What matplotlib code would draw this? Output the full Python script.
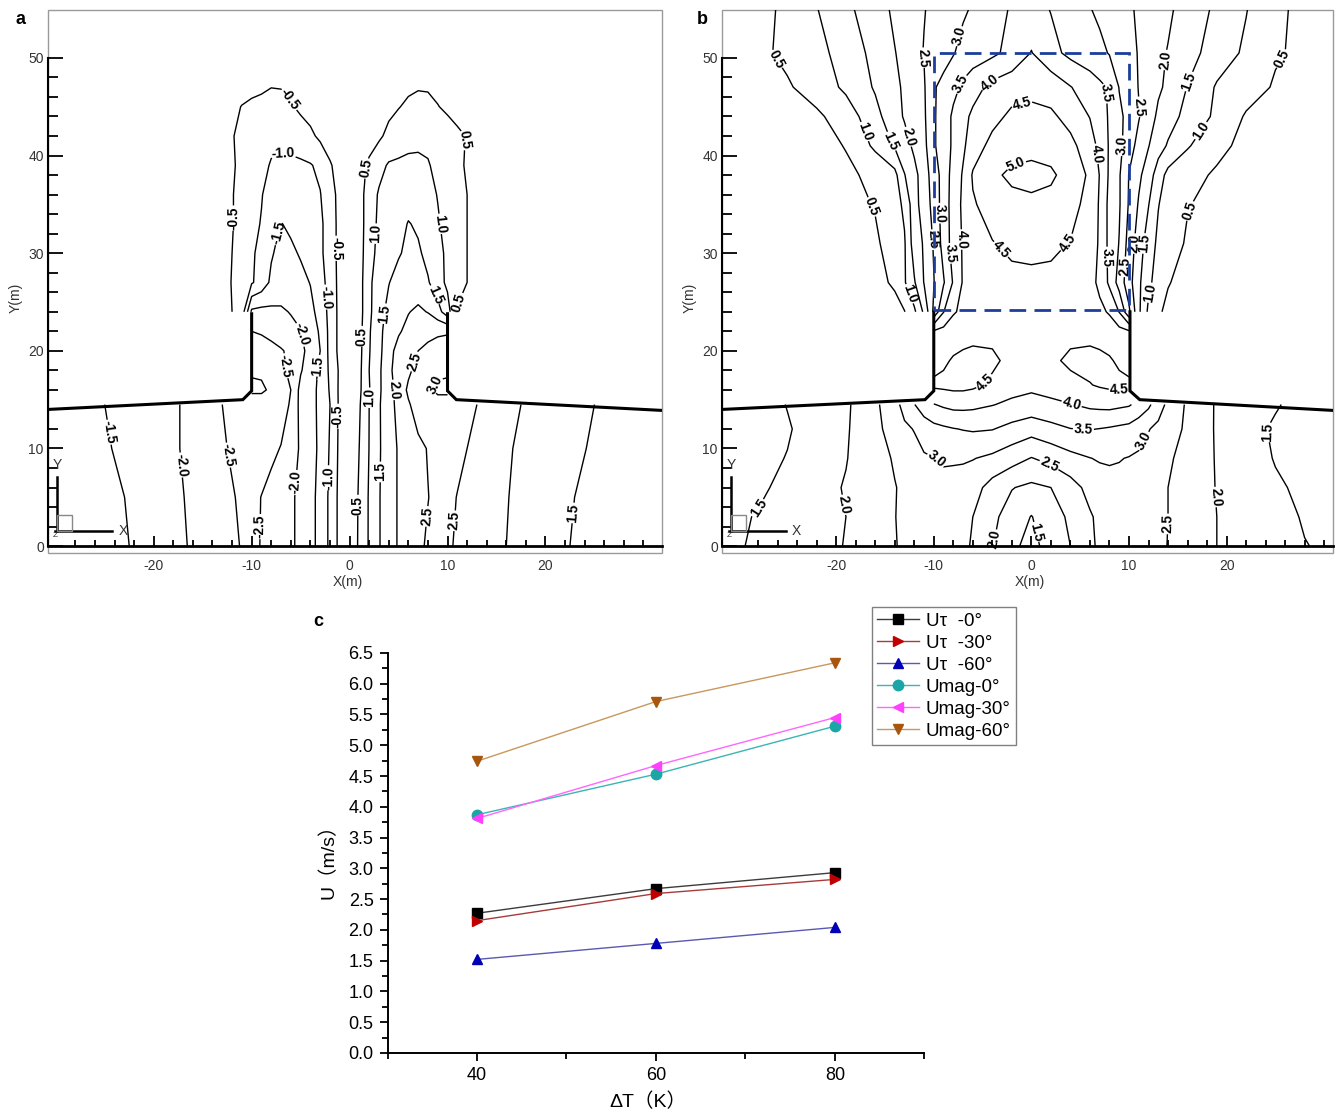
import matplotlib
matplotlib.use('Agg')
import matplotlib.pyplot as plt
import numpy as np
from matplotlib.patches import Rectangle
from matplotlib.ticker import FixedLocator, MultipleLocator, FormatStrFormatter

plt.rcParams['font.family'] = ['Liberation Sans', 'Noto Sans CJK SC']
plt.rcParams['axes.unicode_minus'] = False

N = np.nan

# panel a: field on a coarse grid (rows follow ya, columns xa)
xa = [-31, -25, -20, -16, -13, -11, -10, -9, -8, -7, -6, -5, -4, -3, -2, -1, 0,
      1, 2, 3, 4, 5, 6, 7, 8, 9, 10, 11, 13, 16, 20, 25, 32]
ya = [0, 5, 10, 14.5, 16, 18, 20, 22, 24, 27, 30, 33, 36, 39, 42, 45, 48, 55]
ua = [
    [-1.0, -1.3, -1.7, -2.05, -2.35, -2.52, -2.6, -2.48, -2.35, -2.22, -2.1, -1.85, -1.65, -1.35, -0.9, -0.35, 0.05,
     0.6, 1.05, 1.47, 1.75, 2.05, 2.25, 2.42, 2.55, 2.62, 2.56, 2.45, 2.3, 2.0, 1.7, 1.3, 1.0],
    [-1.05, -1.35, -1.72, -2.08, -2.4, -2.55, -2.62, -2.49, -2.36, -2.22, -2.1, -1.85, -1.65, -1.35, -0.9, -0.35, 0.05,
     0.58, 1.05, 1.47, 1.75, 2.05, 2.25, 2.42, 2.49, 2.6, 2.58, 2.49, 2.35, 2.02, 1.72, 1.35, 1.05],
    [-1.15, -1.45, -1.8, -2.1, -2.45, -2.65, -2.72, -2.7, -2.6, -2.48, -2.3, -1.92, -1.65, -1.42, -0.95, -0.38, 0.02,
     0.51, 1.01, 1.45, 1.75, 2.05, 2.25, 2.4, 2.52, 2.62, 2.65, 2.58, 2.42, 2.05, 1.75, 1.45, 1.1],
    [-1.2, -1.5, -1.8, -2.1, -2.5, -2.75, -2.85, -2.85, -2.8, -2.7, -2.45, -1.85, -1.65, -1.4, -1.0, -0.4, 0.0,
     0.45, 1.0, 1.45, 1.8, 2.15, 2.45, 2.7, 2.85, 2.9, 2.9, 2.85, 2.5, 2.12, 1.8, 1.5, 1.15],
    [N] * 6 + [-3.05, -3.05, -2.95, -2.75, -2.5, -1.85, -1.65, -1.4, -0.95, -0.4, 0.0,
               0.4, 0.97, 1.42, 1.8, 2.2, 2.58, 2.8, 2.95, 3.05, 3.05] + [N] * 6,
    [N] * 6 + [-2.97, -2.95, -2.8, -2.6, -2.4, -2.05, -1.7, -1.42, -0.9, -0.42, 0.0,
               0.38, 1.0, 1.4, 1.9, 2.2, 2.42, 2.65, 2.8, 2.95, 2.97] + [N] * 6,
    [N] * 6 + [-2.75, -2.72, -2.65, -2.55, -2.38, -2.15, -1.8, -1.5, -0.85, -0.35, 0.0,
               0.35, 0.97, 1.35, 1.85, 2.15, 2.35, 2.5, 2.62, 2.7, 2.72] + [N] * 6,
    [N] * 6 + [-2.5, -2.45, -2.35, -2.2, -2.1, -2.02, -1.7, -1.45, -0.85, -0.35, 0.0,
               0.33, 0.95, 1.35, 1.75, 1.95, 2.12, 2.25, 2.35, 2.42, 2.45] + [N] * 6,
    [0, 0, 0, -0.05, -0.3, -0.7, -2.1, -2.15, -2.1, -2.05, -1.98, -1.85, -1.65, -1.3, -0.85, -0.35, 0.0,
     0.3, 0.9, 1.3, 1.65, 1.85, 1.98, 2.08, 1.98, 1.7, 1.2, 0.45, 0.25, 0.05, 0, 0, 0],
    [0, 0, 0, -0.05, -0.3, -0.75, -0.95, -1.2, -1.6, -1.8, -1.75, -1.65, -1.48, -1.2, -0.8, -0.35, 0.0,
     0.3, 0.9, 1.25, 1.48, 1.7, 1.8, 1.75, 1.55, 1.2, 0.9, 0.7, 0.3, 0.05, 0, 0, 0],
    [0, 0, 0, -0.05, -0.3, -0.7, -0.95, -1.1, -1.45, -1.65, -1.6, -1.45, -1.3, -1.1, -0.75, -0.35, 0.0,
     0.3, 0.8, 1.15, 1.3, 1.45, 1.62, 1.58, 1.35, 1.15, 0.9, 0.7, 0.3, 0.05, 0, 0, 0],
    [0, 0, 0, -0.05, -0.3, -0.65, -0.9, -1.02, -1.3, -1.52, -1.4, -1.3, -1.2, -1.1, -0.75, -0.35, 0.0,
     0.3, 0.75, 1.1, 1.2, 1.3, 1.53, 1.42, 1.3, 1.05, 0.85, 0.7, 0.3, 0.05, 0, 0, 0],
    [0, 0, 0, -0.05, -0.3, -0.65, -0.85, -0.98, -1.15, -1.2, -1.2, -1.2, -1.15, -1.02, -0.7, -0.35, 0.0,
     0.3, 0.75, 1.05, 1.15, 1.2, 1.25, 1.2, 1.15, 0.98, 0.85, 0.7, 0.3, 0.05, 0, 0, 0],
    [0, 0, 0, -0.05, -0.3, -0.6, -0.75, -0.9, -1.03, -1.07, -1.08, -1.07, -1.03, -0.9, -0.55, -0.3, 0.0,
     0.3, 0.6, 0.85, 1.05, 1.08, 1.1, 1.08, 1.03, 0.9, 0.75, 0.6, 0.3, 0.05, 0, 0, 0],
    [0, 0, 0, -0.05, -0.35, -0.6, -0.75, -0.85, -0.9, -0.9, -0.85, -0.75, -0.6, -0.4, -0.25, -0.1, 0.0,
     0.1, 0.25, 0.42, 0.62, 0.75, 0.85, 0.9, 0.9, 0.85, 0.75, 0.6, 0.35, 0.05, 0, 0, 0],
    [0, 0, 0, -0.05, -0.2, -0.52, -0.6, -0.65, -0.68, -0.65, -0.55, -0.4, -0.3, -0.2, -0.1, -0.05, 0.0,
     0.05, 0.15, 0.25, 0.38, 0.48, 0.58, 0.62, 0.6, 0.52, 0.4, 0.3, 0.15, 0.05, 0, 0, 0],
    [0, 0, 0, 0, -0.05, -0.15, -0.25, -0.3, -0.4, -0.4, -0.3, -0.2, -0.15, -0.1, -0.05, 0, 0,
     0, 0.05, 0.1, 0.15, 0.25, 0.35, 0.4, 0.4, 0.3, 0.25, 0.15, 0.05, 0, 0, 0, 0],
    [0] * 33,
]
levels_a = [-3.0, -2.5, -2.0, -1.5, -1.0, -0.5, 0.5, 1.0, 1.5, 2.0, 2.5, 3.0]

# panel b: speed field on a coarse grid (rows follow yb, columns xb)
xb = [-32, -28, -25, -22, -19, -16, -14, -13, -12, -11, -10, -9, -8, -7, -6, -4, -2, 0,
      2, 4, 6, 7, 8, 9, 10, 11, 12, 13, 14, 16, 19, 22, 25, 28, 31]
yb = [0, 3, 6, 9, 12, 14.5, 16.5, 19, 22, 24, 27, 31, 35, 38, 41, 44, 47, 50.5, 55]
ub = [
    [1.4, 1.55, 1.7, 1.85, 2.02, 2.3, 2.48, 2.56, 2.65, 2.72, 2.75, 2.75, 2.7, 2.6, 2.45, 2.02, 1.6, 1.35,
     1.7, 2.0, 2.42, 2.57, 2.68, 2.74, 2.75, 2.72, 2.66, 2.58, 2.49, 2.3, 2.0, 1.85, 1.7, 1.52, 1.4],
    [1.35, 1.53, 1.7, 1.85, 2.0, 2.3, 2.49, 2.58, 2.68, 2.75, 2.8, 2.8, 2.75, 2.65, 2.5, 2.1, 1.8, 1.48,
     1.8, 2.08, 2.45, 2.6, 2.72, 2.78, 2.8, 2.75, 2.68, 2.58, 2.5, 2.3, 2.0, 1.85, 1.7, 1.45, 1.35],
    [1.3, 1.42, 1.62, 1.85, 2.03, 2.3, 2.48, 2.58, 2.68, 2.78, 2.85, 2.88, 2.85, 2.8, 2.7, 2.3, 2.02, 1.9,
     2.0, 2.3, 2.65, 2.78, 2.85, 2.88, 2.85, 2.8, 2.72, 2.6, 2.5, 2.3, 1.98, 1.78, 1.57, 1.4, 1.3],
    [1.2, 1.35, 1.52, 1.8, 1.98, 2.3, 2.55, 2.7, 2.85, 2.95, 2.99, 3.05, 3.05, 3.05, 3.02, 2.9, 2.7, 2.48,
     2.65, 2.85, 2.99, 3.04, 3.05, 3.02, 2.98, 2.93, 2.85, 2.72, 2.58, 2.3, 1.97, 1.75, 1.47, 1.33, 1.2],
    [1.15, 1.3, 1.45, 1.75, 1.95, 2.35, 2.75, 2.92, 3.02, 3.2, 3.35, 3.42, 3.48, 3.52, 3.55, 3.52, 3.35, 3.2,
     3.35, 3.49, 3.52, 3.49, 3.45, 3.4, 3.35, 3.2, 3.02, 2.9, 2.75, 2.4, 1.95, 1.7, 1.42, 1.3, 1.15],
    [1.1, 1.25, 1.52, 1.72, 1.92, 2.4, 2.85, 3.15, 3.48, 3.8, 3.98, 4.08, 4.15, 4.15, 4.12, 4.02, 3.9, 3.82,
     3.9, 3.98, 4.1, 4.13, 4.15, 4.1, 4.05, 3.85, 3.6, 3.2, 2.9, 2.42, 1.95, 1.75, 1.55, 1.3, 1.1],
    [N] * 10 + [4.6, 4.62, 4.65, 4.65, 4.6, 4.4, 4.2, 4.12, 4.2, 4.35, 4.48, 4.55, 4.6, 4.62, 4.6] + [N] * 10,
    [N] * 10 + [4.3, 4.42, 4.55, 4.62, 4.65, 4.6, 4.35, 4.25, 4.4, 4.6, 4.65, 4.62, 4.55, 4.42, 4.3] + [N] * 10,
    [N] * 10 + [4.05, 4.15, 4.25, 4.3, 4.35, 4.35, 4.3, 4.28, 4.3, 4.35, 4.35, 4.3, 4.25, 4.15, 4.05] + [N] * 10,
    [0.1, 0.12, 0.15, 0.18, 0.22, 0.28, 0.38, 0.48, 0.9, 1.6, 2.6, 3.48, 3.95, 4.1, 4.2, 4.3, 4.32, 4.33,
     4.32, 4.3, 4.2, 4.1, 3.95, 3.48, 2.6, 1.6, 0.9, 0.55, 0.42, 0.3, 0.22, 0.18, 0.15, 0.12, 0.1],
    [0.1, 0.15, 0.2, 0.25, 0.3, 0.4, 0.55, 0.95, 1.45, 2.02, 2.48, 2.95, 3.55, 4.05, 4.15, 4.3, 4.38, 4.4,
     4.38, 4.3, 4.15, 3.9, 3.4, 2.8, 2.2, 1.6, 1.1, 0.8, 0.52, 0.38, 0.3, 0.25, 0.2, 0.15, 0.1],
    [0.1, 0.15, 0.2, 0.25, 0.3, 0.45, 0.65, 0.95, 1.75, 2.05, 2.55, 3.2, 3.7, 4.05, 4.2, 4.48, 4.6, 4.62,
     4.6, 4.48, 4.2, 3.95, 3.35, 2.98, 2.3, 1.75, 1.25, 0.9, 0.7, 0.45, 0.3, 0.25, 0.2, 0.15, 0.1],
    [0.1, 0.15, 0.22, 0.3, 0.38, 0.52, 0.8, 1.1, 1.8, 2.25, 2.65, 3.25, 3.7, 4.1, 4.45, 4.7, 4.85, 4.9,
     4.85, 4.7, 4.3, 3.95, 3.35, 3.05, 2.45, 1.95, 1.52, 1.02, 0.8, 0.52, 0.38, 0.3, 0.22, 0.15, 0.1],
    [0.1, 0.15, 0.22, 0.3, 0.42, 0.6, 0.85, 1.48, 1.85, 2.25, 2.75, 3.2, 3.7, 4.05, 4.55, 4.9, 5.1, 5.15,
     5.08, 4.8, 4.42, 3.98, 3.42, 3.05, 2.48, 2.1, 1.75, 1.25, 0.85, 0.62, 0.45, 0.32, 0.22, 0.15, 0.1],
    [0.12, 0.18, 0.25, 0.35, 0.52, 1.1, 1.55, 1.8, 2.1, 2.35, 2.95, 3.2, 3.6, 3.92, 4.25, 4.65, 4.8, 4.85,
     4.8, 4.62, 4.25, 3.85, 3.45, 3.15, 2.7, 2.35, 2.02, 1.7, 1.45, 1.05, 0.6, 0.4, 0.28, 0.18, 0.12],
    [0.15, 0.22, 0.32, 0.42, 0.72, 1.35, 1.8, 2.05, 2.25, 2.42, 2.95, 3.2, 3.6, 3.85, 4.1, 4.35, 4.6, 4.65,
     4.58, 4.35, 3.98, 3.7, 3.45, 3.1, 2.85, 2.53, 2.25, 1.9, 1.7, 1.35, 0.9, 0.45, 0.33, 0.22, 0.15],
    [0.2, 0.35, 0.45, 0.7, 1.1, 1.55, 1.85, 2.1, 2.3, 2.45, 2.95, 3.15, 3.35, 3.6, 3.8, 4.15, 4.3, 4.35,
     4.3, 4.02, 3.75, 3.6, 3.45, 2.98, 2.75, 2.48, 2.3, 2.08, 1.9, 1.48, 0.95, 0.72, 0.45, 0.32, 0.2],
    [0.3, 0.4, 0.6, 0.85, 1.2, 1.65, 1.98, 2.15, 2.35, 2.52, 2.65, 2.8, 2.97, 3.15, 3.25, 3.4, 3.65, 4.02,
     3.65, 3.38, 3.22, 3.12, 2.97, 2.82, 2.6, 2.48, 2.32, 2.12, 1.97, 1.7, 1.25, 0.92, 0.55, 0.4, 0.3],
    [0.2, 0.35, 0.6, 0.98, 1.4, 1.75, 2.1, 2.2, 2.35, 2.48, 2.6, 2.7, 2.82, 2.93, 3.05, 3.3, 3.55, 3.7,
     3.48, 3.25, 3.02, 2.9, 2.78, 2.68, 2.55, 2.45, 2.35, 2.22, 2.1, 1.75, 1.42, 1.02, 0.62, 0.35, 0.2],
]
levels_b = [0.5, 1.0, 1.5, 2.0, 2.5, 3.0, 3.5, 4.0, 4.5, 5.0]

# ground line and chimney walls
wall_a = [([-30.8, -10.9, -10.0, -10.0], [14.0, 15.0, 15.9, 23.8]),
          ([10.0, 10.0, 10.9, 31.9], [23.8, 15.9, 15.0, 13.9])]
wall_b = [([-31.7, -10.9, -10.0, -10.0], [14.0, 15.0, 15.9, 24.0]),
          ([10.1, 10.1, 11.1, 30.9], [24.0, 15.9, 15.0, 13.9])]
box_b = (-10.0, 24.2, 20.0, 26.3)   # dashed region: x0, y0, width, height

# panel c
delta_t = [40, 60, 80]
u_tau_0 = [2.27, 2.67, 2.93]
u_tau_30 = [2.15, 2.59, 2.82]
u_tau_60 = [1.52, 1.78, 2.04]
u_mag_0 = [3.87, 4.53, 5.31]
u_mag_30 = [3.81, 4.67, 5.45]
u_mag_60 = [4.74, 5.71, 6.34]

# where the contour labels sit, per level
spots_a = {
    -2.5: [(-6.2, 18.5), (-8.9, 2.0), (-11.9, 9.4)],
    -2.0: [(-5.4, 21.6), (-5.3, 6.5), (-17.3, 8.3)],
    -1.5: [(-6.9, 32.0), (-3.2, 18.3), (-23.7, 11.8)],
    -1.0: [(-6.8, 40.0), (-2.55, 25.5), (-2.2, 7.0)],
    -0.5: [(-5.8, 46.0), (-11.8, 33.6), (-1.5, 30.5), (-1.3, 13.3)],
    0.5: [(1.55, 38.7), (1.3, 21.5), (1.0, 4.2), (11.6, 41.6), (11.5, 24.8)],
    1.0: [(2.7, 32.0), (9.2, 33.0), (2.0, 15.2)],
    1.5: [(3.6, 23.8), (8.2, 25.5), (3.1, 7.6), (22.8, 3.4)],
    2.0: [(4.5, 16.0)],
    2.5: [(6.0, 19.1), (8.4, 3.0), (10.7, 2.6)],
    3.0: [(8.6, 16.6)],
}
spots_b = {
    0.5: [(-25.9, 50.0), (-16.2, 34.8), (25.5, 50.0), (16.0, 34.4)],
    1.0: [(-17.5, 42.3), (17.3, 42.6), (-12.6, 25.8), (12.4, 25.9)],
    1.5: [(-14.5, 41.4), (16.1, 47.6), (11.5, 31.0), (-27.8, 3.8), (24.3, 11.7), (0.7, 1.5)],
    2.0: [(-12.7, 41.9), (13.6, 49.8), (10.3, 31.0), (-18.8, 4.3), (18.4, 5.0), (-3.9, 0.7)],
    2.5: [(-11.2, 50.0), (-9.9, 31.4), (11.3, 45.0), (9.6, 28.6), (13.3, 2.3), (1.9, 8.5)],
    3.0: [(-7.3, 52.2), (-9.3, 34.1), (9.3, 41.0), (-9.4, 9.2), (10.7, 11.2)],
    3.5: [(-7.4, 47.4), (-8.1, 30.0), (7.9, 46.4), (7.6, 29.6), (5.3, 11.6)],
    4.0: [(-4.0, 47.1), (-7.2, 31.4), (6.9, 40.2), (4.0, 14.2)],
    4.5: [(-1.0, 45.4), (-4.0, 29.6), (3.8, 31.0), (-4.4, 16.5), (9.0, 15.3)],
    5.0: [(-1.8, 39.9)],
}

GREY = '#333333'


def field_panel(ax, x, y, z, levels, spots, walls, xlim, xlabel_x):
    field = np.ma.masked_invalid(np.array(z, dtype=float))
    # one contour set per level, so each label lands on its own level
    for lev in levels:
        cs = ax.contour(x, y, field, levels=[lev], colors='k', linewidths=1.0,
                        linestyles='solid', negative_linestyles='solid', corner_mask=False)
        if lev in spots and len(cs.allsegs[0]):
            for t in ax.clabel(cs, manual=spots[lev], fmt='%.1f', fontsize=9.8, inline_spacing=1):
                t.set_fontweight('bold')
    for wx, wy in walls:
        ax.plot(wx, wy, color='k', lw=2.2, solid_joinstyle='miter', zorder=4)

    ax.set_xlim(*xlim)
    ax.set_ylim(-0.7, 54.9)
    ax.spines['top'].set_visible(False)
    ax.spines['right'].set_visible(False)
    ax.spines['bottom'].set_position(('data', 0))
    ax.spines['bottom'].set_linewidth(2.0)
    ax.spines['left'].set_bounds(0, 50)
    ax.spines['left'].set_linewidth(1.5)
    ax.add_patch(Rectangle((0, 0), 1, 1, transform=ax.transAxes, fill=False,
                           ec='#9a9a9a', lw=1.0, clip_on=False, zorder=0))
    ax.xaxis.set_major_locator(FixedLocator([-20, -10, 0, 10, 20]))
    ax.xaxis.set_minor_locator(FixedLocator(np.arange(-28, 31, 2)))
    ax.yaxis.set_major_locator(FixedLocator([0, 10, 20, 30, 40, 50]))
    ax.yaxis.set_minor_locator(FixedLocator(np.arange(2, 50, 2)))
    ax.tick_params(axis='x', which='major', direction='in', length=7, width=1.3, pad=9,
                   labelsize=10, labelcolor=GREY)
    ax.tick_params(axis='x', which='minor', direction='in', length=4.5, width=1.3)
    ax.tick_params(axis='y', which='major', direction='in', length=11, width=1.3, pad=3,
                   labelsize=10, labelcolor=GREY)
    ax.tick_params(axis='y', which='minor', direction='in', length=7, width=1.3)
    ax.set_xlabel('X(m)', fontsize=10, color=GREY)
    ax.set_ylabel('Y(m)', fontsize=10, color=GREY)
    ax.xaxis.set_label_coords(xlabel_x, -0.04)
    ax.yaxis.set_label_coords(-0.041, 0.47)

    # small axis triad in the lower left corner
    kw = dict(transform=ax.transAxes, clip_on=False, zorder=5)
    ax.plot([0.014, 0.014], [0.04, 0.14], color='k', lw=1.8, **kw)
    ax.plot([0.012, 0.104], [0.04, 0.04], color='k', lw=1.8, **kw)
    ax.add_patch(Rectangle((0.014, 0.04), 0.026, 0.03, fill=False, ec='#888888', lw=1.0, **kw))
    ax.text(0.122, 0.04, 'X', fontsize=10, color=GREY, ha='center', va='center', **kw)
    ax.text(0.016, 0.162, 'Y', fontsize=10, color=GREY, ha='center', va='center', **kw)
    ax.text(0.012, 0.032, 'Z', fontsize=6, color=GREY, ha='center', va='center', **kw)


fig = plt.figure(figsize=(13.39, 11.14), dpi=100)
ax_a = fig.add_axes([0.0358, 0.5036, 0.4586, 0.4874])
ax_b = fig.add_axes([0.5392, 0.5036, 0.4563, 0.4874])
ax_c = fig.add_axes([0.2894, 0.0548, 0.4010, 0.3591])

field_panel(ax_a, xa, ya, ua, levels_a, spots_a, wall_a, (-30.8, 31.9), 0.489)
field_panel(ax_b, xb, yb, ub, levels_b, spots_b, wall_b, (-31.7, 30.9), 0.504)
ax_b.add_patch(Rectangle(box_b[:2], box_b[2], box_b[3], fill=False, ec='#1c3d9c', lw=2.0,
                         ls=(0, (6, 3)), zorder=6))

# panel c
series = [
    (u_tau_0, 'Uτ  -0°', '#3c3c3c', 'k', 's'),
    (u_tau_30, 'Uτ  -30°', '#a83a3a', '#c00000', '>'),
    (u_tau_60, 'Uτ  -60°', '#5a5ab0', '#0000b4', '^'),
    (u_mag_0, 'Umag-0°', '#3cb4b4', '#1aa6a6', 'o'),
    (u_mag_30, 'Umag-30°', '#ff66ff', '#ff40ff', '<'),
    (u_mag_60, 'Umag-60°', '#c8975e', '#a8560e', 'v'),
]
for vals, name, lc, mc, mk in series:
    ax_c.plot(delta_t, vals, color=lc, lw=1.0, marker=mk, ms=7.5, mfc=mc, mec=mc, label=name)

ax_c.set_xlim(30, 90)
ax_c.set_ylim(0, 6.5)
ax_c.spines['top'].set_visible(False)
ax_c.spines['right'].set_visible(False)
ax_c.spines['left'].set_linewidth(1.4)
ax_c.spines['bottom'].set_linewidth(1.4)
ax_c.xaxis.set_major_locator(FixedLocator([40, 60, 80]))
ax_c.xaxis.set_minor_locator(FixedLocator([30, 50, 70, 90]))
ax_c.yaxis.set_major_locator(MultipleLocator(0.5))
ax_c.yaxis.set_minor_locator(MultipleLocator(0.25))
ax_c.yaxis.set_major_formatter(FormatStrFormatter('%.1f'))
ax_c.tick_params(which='major', direction='out', length=6, width=1.3, labelsize=13, pad=4)
ax_c.tick_params(which='minor', direction='out', length=4, width=1.3)
ax_c.set_xlabel('ΔT（K）', fontsize=14)
ax_c.set_ylabel('U（m/s）', fontsize=14)
ax_c.xaxis.set_label_coords(0.485, -0.1)
ax_c.yaxis.set_label_coords(-0.092, 0.49)
ax_c.legend(loc='upper left', bbox_to_anchor=(0.902, 1.115), fontsize=13.5, frameon=True,
            fancybox=False, edgecolor='#808080', framealpha=1, borderpad=0.3,
            labelspacing=0.26, handlelength=2.2, handletextpad=0.37, borderaxespad=0)

fig.text(15 / 1339, 1 - 20 / 1114, 'a', fontsize=13, fontweight='bold', va='center')
fig.text(697 / 1339, 1 - 20 / 1114, 'b', fontsize=13, fontweight='bold', va='center')
fig.text(313 / 1339, 1 - 621 / 1114, 'c', fontsize=13, fontweight='bold', va='center')

fig.savefig('out.png', dpi=100, facecolor='white')
